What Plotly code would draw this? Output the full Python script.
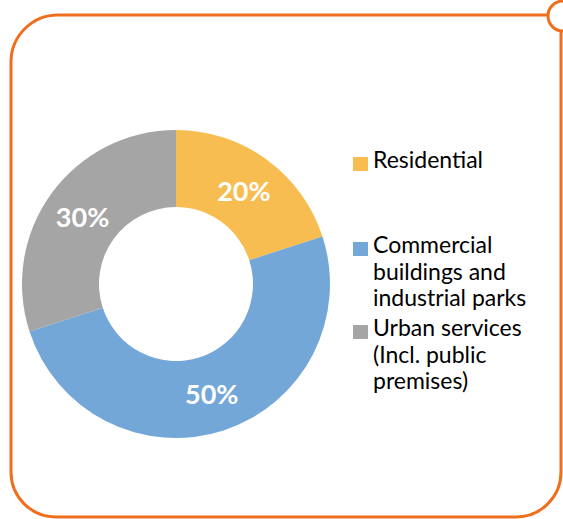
import plotly.graph_objects as go

# Share of demand by customer segment
segments = ["Residential", "Commercial buildings and industrial parks", "Urban services (Incl. public premises)"]
legend_lines = [
    ["Residential"],
    ["Commercial", "buildings and", "industrial parks"],
    ["Urban services", "(Incl. public", "premises)"],
]
shares = [20, 50, 30]
colors = ["#F8BD50", "#73A7D7", "#A5A5A5"]

W, H = 563, 519
ORANGE = "#EF6F1F"


def px(x):
    return x / W


def py(y):
    return 1 - y / H


fig = go.Figure()
fig.add_trace(go.Pie(
    labels=segments,
    values=shares,
    hole=0.5,
    sort=False,
    direction="clockwise",
    rotation=0,
    marker=dict(colors=colors, line=dict(width=0)),
    texttemplate="%{value}%",
    textposition="inside",
    insidetextorientation="horizontal",
    textfont=dict(family="Lato", size=27, color="white", weight="bold"),
    domain=dict(x=[px(22), px(330)], y=[py(438), py(130)]),
    showlegend=False,
    hoverinfo="label+percent",
))

# Frame: rounded rectangle open at the top-right corner, plus a small ring there
L, T, R, B = 11, 15, 561, 517
rtl, rb = 47, 45
k = 0.5523
frame = (
    f"M{px(R)},{py(32)} L{px(R)},{py(B - rb)} "
    f"C{px(R)},{py(B - rb + rb * k)} {px(R - rb + rb * k)},{py(B)} {px(R - rb)},{py(B)} "
    f"L{px(L + rb)},{py(B)} "
    f"C{px(L + rb - rb * k)},{py(B)} {px(L)},{py(B - rb + rb * k)} {px(L)},{py(B - rb)} "
    f"L{px(L)},{py(T + rtl)} "
    f"C{px(L)},{py(T + rtl - rtl * k)} {px(L + rtl - rtl * k)},{py(T)} {px(L + rtl)},{py(T)} "
    f"L{px(547)},{py(T)}"
)
shapes = [
    dict(type="path", path=frame, xref="paper", yref="paper",
         line=dict(color=ORANGE, width=3), fillcolor="rgba(0,0,0,0)"),
    dict(type="circle", xref="paper", yref="paper",
         x0=px(548), x1=px(578), y0=py(31), y1=py(1),
         line=dict(color=ORANGE, width=3), fillcolor="white"),
]

# Legend: colour swatch plus one text row per label line
swatch_tops = [157, 242, 325]
FS = 23
PITCH = 26.5
annotations = []
for lines, color, top in zip(legend_lines, colors, swatch_tops):
    shapes.append(dict(type="rect", xref="paper", yref="paper",
                       x0=px(353), x1=px(368), y0=py(top + 14), y1=py(top),
                       line=dict(width=0), fillcolor=color))
    for i, line in enumerate(lines):
        mid = top + 7 + i * PITCH
        annotations.append(dict(
            x=px(371), y=py(mid - 5), xref="paper", yref="paper",
            xanchor="left", yanchor="middle", align="left", showarrow=False,
            text=line, font=dict(family="Lato", size=FS, color="#000000"),
        ))

fig.update_layout(
    width=W, height=H,
    margin=dict(l=0, r=0, t=0, b=0),
    paper_bgcolor="white",
    plot_bgcolor="white",
    shapes=shapes,
    annotations=annotations,
)

fig.write_html("out.html")
